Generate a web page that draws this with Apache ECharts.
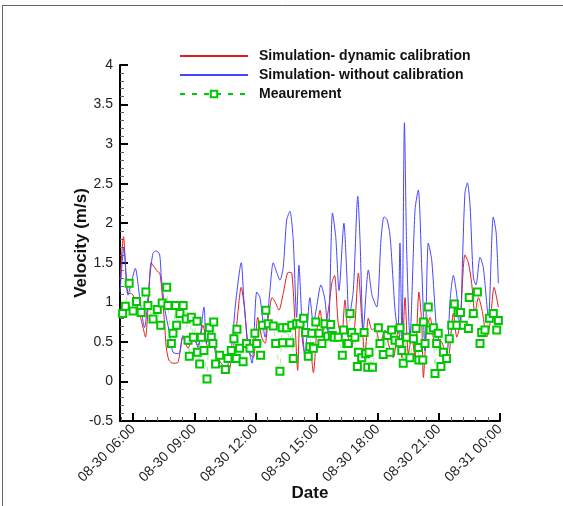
<!DOCTYPE html>
<html>
<head>
<meta charset="utf-8">
<script src="https://cdn.jsdelivr.net/npm/echarts@6/dist/echarts.min.js"></script>
<style>
html,body{margin:0;padding:0;background:#fff;}
#chart{width:563px;height:506px;}
</style>
</head>
<body>
<div id="chart"></div>
<script>
// Hours since 08-30 00:00
const redTime = [5.35,5.52,5.74,5.90,5.99,6.15,6.33,6.48,6.60,6.75,6.88,7.05,7.19,7.30,7.37,7.54,7.62,7.75,7.95,8.19,
  8.44,8.69,8.93,9.18,9.42,9.67,9.91,10.16,10.40,10.65,10.85,11.06,11.30,11.47,11.65,11.89,12.11,12.30,12.47,12.63,
  12.82,12.99,13.15,13.36,13.61,13.78,13.94,14.07,14.18,14.35,14.51,14.67,14.84,15.00,15.17,15.33,15.49,15.66,15.75,15.88,
  16.06,16.23,16.39,16.55,16.72,16.88,17.05,17.21,17.37,17.54,17.72,17.87,18.11,18.36,18.52,18.76,19.01,19.18,19.34,19.50,
  19.67,19.83,20.02,20.16,20.24,20.40,20.57,20.81,21.06,21.30,21.46,21.71,21.88,22.04,22.28,22.45,22.61,22.77,22.94,23.12,
  23.35,23.51,23.71,23.92];
const redValue = [1.28,1.83,1.11,1.11,1.09,0.99,0.84,0.68,0.56,1.03,1.50,1.44,1.39,1.37,1.24,0.73,0.43,0.27,0.23,0.24,
  0.56,0.42,0.54,0.46,0.71,0.43,0.52,0.30,0.20,0.10,0.33,0.68,1.19,0.90,0.39,0.30,0.81,0.56,0.48,0.81,
  1.06,0.99,0.90,1.11,1.38,1.37,0.73,0.14,0.81,0.43,0.30,0.43,0.11,0.61,0.90,0.65,0.77,1.06,1.25,1.34,
  0.73,0.56,1.03,0.56,0.43,0.73,1.37,0.81,0.30,0.80,0.65,0.68,0.48,0.65,0.48,0.30,0.65,0.30,1.06,0.35,
  0.56,0.30,1.13,0.73,0.05,0.65,0.81,0.48,0.52,0.39,0.30,0.86,0.56,0.73,1.60,1.50,1.24,0.86,1.06,0.90,
  0.56,0.73,1.19,0.94];

const blueTime = [5.35,5.54,5.74,5.91,6.10,6.33,6.55,6.82,6.97,7.11,7.29,7.38,7.56,7.75,7.95,8.24,8.44,8.69,8.93,9.18,
  9.47,9.59,9.81,10.01,10.26,10.50,10.80,11.04,11.30,11.43,11.61,11.83,12.06,12.22,12.47,12.71,12.87,13.04,13.20,13.36,
  13.53,13.69,13.85,14.02,14.13,14.27,14.43,14.67,14.84,15.00,15.21,15.41,15.57,15.78,15.94,16.10,16.34,16.48,16.59,16.80,
  17.02,17.13,17.29,17.54,17.72,17.95,18.16,18.31,18.45,18.60,18.72,18.85,18.99,19.09,19.19,19.31,19.42,19.58,19.83,19.99,
  20.16,20.32,20.48,20.65,20.89,21.06,21.22,21.38,21.55,21.71,21.88,22.04,22.16,22.28,22.40,22.53,22.69,22.82,23.02,23.18,
  23.43,23.67,23.81,23.92];
const blueValue = [1.13,1.69,1.09,1.25,1.43,1.03,0.68,1.34,1.62,1.65,1.61,1.31,0.90,0.65,0.37,0.35,0.58,0.46,0.58,0.43,
  0.94,0.48,0.75,0.39,0.20,0.13,0.39,1.03,1.50,1.03,0.52,0.23,1.13,1.06,0.56,1.15,1.50,1.38,1.28,1.44,
  2.04,2.15,1.79,0.81,1.47,0.81,0.30,1.06,0.73,0.94,1.22,1.03,0.56,2.13,1.82,1.15,2.00,1.37,0.81,1.15,
  2.34,1.79,0.65,1.41,1.09,0.94,1.79,2.08,2.05,1.85,1.41,0.90,0.61,1.75,0.48,3.27,1.66,0.56,2.17,2.42,
  1.44,0.39,1.75,1.53,0.65,0.46,0.35,0.30,1.03,1.34,1.09,0.65,1.53,2.38,2.51,2.23,1.32,1.22,1.57,1.44,
  0.81,2.08,1.88,1.24];

const measTime = [5.48,5.61,5.80,5.99,6.16,6.39,6.62,6.72,6.97,7.18,
  7.35,7.42,7.64,7.70,7.87,7.95,8.08,8.13,8.29,8.45,
  8.60,8.69,8.75,8.85,8.95,9.13,9.15,9.26,9.34,9.47,
  9.62,9.73,9.83,9.91,9.95,10.04,10.24,10.52,10.65,10.81,
  10.94,11.06,11.09,11.22,11.39,11.56,11.73,11.97,12.06,12.25,
  12.34,12.51,12.63,12.87,12.99,13.20,13.31,13.33,13.53,13.69,
  13.78,13.85,14.02,14.18,14.36,14.46,14.59,14.67,14.76,14.84,
  14.96,15.12,15.26,15.41,15.54,15.69,15.77,15.87,16.06,16.26,
  16.32,16.48,16.55,16.64,16.72,16.88,17.00,17.05,17.21,17.33,
  17.41,17.51,17.57,17.74,18.03,18.11,18.27,18.47,18.60,18.68,
  18.85,19.06,19.09,19.18,19.25,19.42,19.58,19.75,19.88,19.99,
  20.02,20.21,20.24,20.32,20.48,20.57,20.73,20.81,20.89,20.97,
  21.10,21.22,21.38,21.51,21.63,21.76,21.88,21.95,22.06,22.20,
  22.45,22.49,22.69,22.89,23.02,23.10,23.26,23.48,23.67,23.84,
  23.92];
const measValue = [0.86,0.95,1.24,0.89,1.01,0.87,1.13,0.96,0.79,0.91,
  0.71,0.99,1.19,0.96,0.48,0.61,0.96,0.71,0.86,0.96,
  0.79,0.52,0.32,0.81,0.56,0.76,0.37,0.22,0.56,0.39,
  0.03,0.68,0.56,0.48,0.75,0.22,0.33,0.15,0.29,0.39,
  0.54,0.29,0.66,0.42,0.25,0.48,0.42,0.61,0.48,0.33,
  0.71,0.90,0.73,0.70,0.48,0.13,0.68,0.49,0.68,0.49,
  0.71,0.29,0.73,0.73,0.80,0.62,0.32,0.44,0.61,0.42,
  0.75,0.61,0.48,0.73,0.57,0.72,0.58,0.56,0.56,0.33,
  0.65,0.48,0.48,0.86,0.62,0.56,0.19,0.37,0.30,0.62,
  0.35,0.18,0.37,0.18,0.68,0.48,0.34,0.58,0.37,0.65,
  0.52,0.49,0.68,0.39,0.23,0.56,0.30,0.54,0.67,0.43,
  0.27,0.27,0.75,0.48,0.94,0.65,0.68,0.10,0.48,0.61,
  0.19,0.37,0.29,0.54,0.71,0.98,0.71,0.87,0.87,0.71,
  0.67,1.06,0.86,1.13,0.48,0.62,0.65,0.80,0.86,0.65,
  0.77];

const xTickHours = [6, 9, 12, 15, 18, 21, 24];
const xTickLabels = ['08-30 06:00','08-30 09:00','08-30 12:00','08-30 15:00','08-30 18:00','08-30 21:00','08-31 00:00'];
const xMinorHours = [5.4,6.6,7.2,7.8,8.4,9.6,10.2,10.8,11.4,12.6,13.2,13.8,14.4,15.6,16.2,16.8,17.4,18.6,19.2,19.8,20.4,21.6,22.2,22.8,23.4];
const seriesNames = ['Simulation- dynamic calibration','Simulation- without calibration','Meaurement'];

function zip(a, b) { const n = Math.min(a.length, b.length); const o = []; for (let i = 0; i < n; i++) o.push([a[i], b[i]]); return o; }

const chart = echarts.init(document.getElementById('chart'), null, {renderer: 'canvas'});
const FONT = '"Liberation Sans", Arial, sans-serif';
chart.setOption({
  animation: false,
  backgroundColor: '#ffffff',
  textStyle: {fontFamily: FONT},
  graphic: [
    {type: 'line', shape: {x1: 2, y1: 5.5, x2: 563, y2: 5.5}, style: {stroke: '#666', lineWidth: 1}},
    {type: 'line', shape: {x1: 2.5, y1: 5, x2: 2.5, y2: 506}, style: {stroke: '#666', lineWidth: 1}}
  ],
  legend: {
    orient: 'vertical', left: 179, top: 49, padding: 0,
    itemWidth: 68, itemHeight: 8, itemGap: 5,
    textStyle: {fontFamily: FONT, fontSize: 14, fontWeight: 'bold', color: '#111', padding: [0,0,0,6]},
    data: [
      {name: seriesNames[0], itemStyle: {opacity: 0}},
      {name: seriesNames[1], itemStyle: {opacity: 0}},
      {name: seriesNames[2], lineStyle: {opacity: 1}}
    ]
  },
  grid: {left: 120, top: 65, right: 63, bottom: 85, containLabel: false, outerBoundsMode: 'none'},
  xAxis: [{
    type: 'value', min: 5.35, max: 24,
    name: 'Date', nameLocation: 'middle', nameGap: 64, nameMoveOverlap: false,
    nameTextStyle: {fontFamily: FONT, fontSize: 17, fontWeight: 'bold', color: '#111'},
    axisLine: {show: true, onZero: false, lineStyle: {color: '#000', width: 2}},
    axisTick: {show: true, inside: true, length: 8, lineStyle: {color: '#000', width: 2}, customValues: xTickHours},
    axisLabel: {show: true, rotate: 45, margin: 6, fontFamily: FONT, fontSize: 14, color: '#222',
      customValues: xTickHours,
      formatter: function (v) { const i = xTickHours.indexOf(v); return i >= 0 ? xTickLabels[i] : ''; }},
    splitLine: {show: false}
  }, {
    type: 'value', min: 5.35, max: 24, position: 'bottom',
    axisLine: {show: false, onZero: false},
    axisTick: {show: true, inside: true, length: 4, lineStyle: {color: '#666', width: 1}, customValues: xMinorHours},
    axisLabel: {show: false},
    splitLine: {show: false}
  }],
  yAxis: {
    type: 'value', min: -0.5, max: 4, interval: 0.5,
    name: 'Velocity (m/s)', nameLocation: 'middle', nameGap: 30, nameMoveOverlap: false,
    nameTextStyle: {fontFamily: FONT, fontSize: 17, fontWeight: 'bold', color: '#111'},
    axisLine: {show: true, onZero: false, lineStyle: {color: '#000', width: 2}},
    axisTick: {show: true, inside: true, length: 8, lineStyle: {color: '#000', width: 2}},
    minorTick: {show: true, splitNumber: 5, length: 4, lineStyle: {color: '#666', width: 1}},
    axisLabel: {margin: 7, fontFamily: FONT, fontSize: 14, color: '#222',
      formatter: function (v) { return String(Math.round(v * 10) / 10); }},
    splitLine: {show: false}
  },
  series: [
    {name: seriesNames[0], type: 'line', xAxisIndex: 0, data: zip(redTime, redValue), symbol: 'none', smooth: 0.25,
      lineStyle: {color: '#e02020', width: 1}, itemStyle: {color: '#e02020'}, z: 2},
    {name: seriesNames[1], type: 'line', xAxisIndex: 0, data: zip(blueTime, blueValue), symbol: 'none', smooth: 0.25,
      lineStyle: {color: '#4646ff', width: 1}, itemStyle: {color: '#4646ff'}, z: 3},
    {name: seriesNames[2], type: 'line', xAxisIndex: 0, data: zip(measTime, measValue),
      symbol: 'emptyRect', symbolSize: 7, showAllSymbol: true,
      lineStyle: {color: '#00c800', width: 1, type: [5, 7], opacity: 0.35},
      itemStyle: {color: '#00c800', borderColor: '#00c800', borderWidth: 1.5}, z: 4}
  ]
});
</script>
</body>
</html>
